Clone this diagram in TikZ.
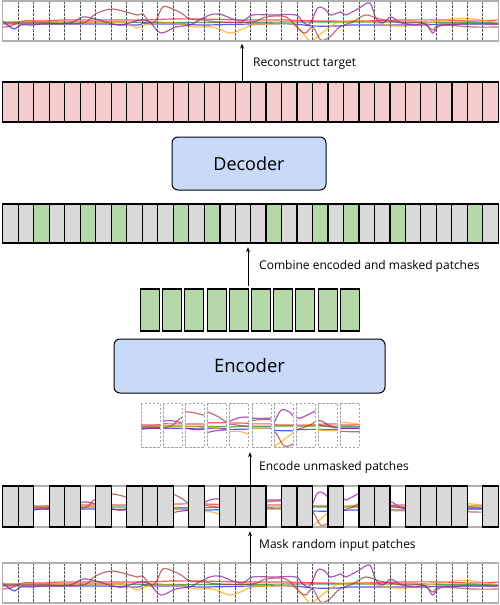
\documentclass[tikz,border=0pt]{standalone}
\usepackage{fontspec}
\setmainfont{Open Sans}
\usetikzlibrary{arrows.meta}
\definecolor{pinkc}{HTML}{F4CCCC}
\definecolor{greenc}{HTML}{B6D7A8}
\definecolor{grayc}{HTML}{D9D9D9}
\definecolor{bluec}{HTML}{C9DAF8}
\definecolor{stripborder}{HTML}{B0B0B0}
\definecolor{divc}{HTML}{555555}
\definecolor{sigred}{HTML}{FF1A1A}
\definecolor{sigbrown}{HTML}{A83A3A}
\definecolor{sigpurple}{HTML}{8E1A9E}
\definecolor{sigorange}{HTML}{FFA500}
\definecolor{sigblue}{HTML}{1A1AFF}
\definecolor{siggreen}{HTML}{108A10}
\tikzset{
  sigline/.style={line width=1.2pt, opacity=0.72, line join=round},
  cellline/.style={line width=1.1pt, black},
  divline/.style={divc, line width=0.8pt, dash pattern=on 2.5pt off 1.5pt},
  borderline/.style={stripborder, line width=1.2pt},
  procbox/.style={draw=black, fill=bluec, line width=1pt, rounded corners=6pt, inner sep=0pt},
  greenbox/.style={draw=black, fill=greenc, line width=1.1pt},
  graybox/.style={draw=black, fill=grayc, line width=1.1pt},
  smallpatch/.style={draw=gray!70, line width=0.9pt, dash pattern=on 2.5pt off 1.5pt},
  arr/.style={-{Stealth[length=5pt,width=4pt]}, line width=0.8pt, black},
  lab/.style={font=\fontsize{12}{14}\selectfont, anchor=west, inner sep=0pt},
  anchorbox/.style={inner sep=0pt, minimum width=495.6pt, minimum height=40pt}
}
\newcommand\drawsignals{%
 \draw[sigline, sigred] plot[smooth, tension=0.55] coordinates {(0,26) (8,25) (20,20) (40,20) (60,19) (100,19) (140,19) (170,18) (200,18) (240,19) (280,19) (320,20) (360,20) (400,19) (440,19) (470,20) (496,19)};
 \draw[sigline, siggreen] plot[smooth, tension=0.55] coordinates {(0,21) (100,21) (200,21.5) (300,21) (400,21) (496,21.5)};
 \draw[sigline, sigblue] plot[smooth, tension=0.55] coordinates {(0,20) (6,25) (12,28) (18,24) (30,24) (40,23) (60,23) (100,23) (135,24) (140,22) (150,23) (180,23) (200,24) (250,23) (290,23) (310,25) (335,25) (350,24) (420,24) (440,23) (496,23)};
 \draw[sigline, sigorange] plot[smooth, tension=0.55] coordinates {(0,21) (40,21) (80,21) (120,22) (135,27) (145,23) (170,22) (193,26) (210,26) (227,32) (240,28) (250,24) (270,23) (290,23) (300,32) (308,40) (318,33) (327,26) (337,21) (360,20) (393,25) (420,23) (450,18) (470,18) (496,22)};
 \draw[sigline, sigpurple] plot[smooth, tension=0.55] coordinates {(0,22) (40,22) (67,22) (80,16) (93,18) (110,23) (120,24) (137,19) (147,21) (158,32) (173,26) (187,24) (195,20) (207,14) (217,13) (230,18) (240,20) (250,14) (270,14) (293,14) (300,21) (307,23) (315,7) (322,8) (328,14) (338,11) (343,14) (355,8) (367,2) (373,17) (380,22) (388,16) (397,21) (410,24) (423,23) (430,32) (437,25) (460,23) (496,23)};
 \draw[sigline, sigbrown] plot[smooth, tension=0.55] coordinates {(0,23) (40,23) (80,22) (90,15) (97,11) (110,8) (127,12) (135,14) (140,13) (147,21) (153,20) (160,6) (170,8) (180,13) (187,18) (200,19) (217,21) (250,21) (263,16) (283,16) (297,29) (303,32) (310,26) (318,39) (327,36) (337,26) (350,21) (363,14) (377,18) (400,22) (420,22) (430,29) (437,24) (470,26) (496,26)};
}
% a signal strip with top-left corner at (2.7,#1), height #2
\newcommand\signalstrip[2]{%
 \begin{scope}
  \clip (2.7,#1) rectangle (498.3,#1+#2);
  \begin{scope}[shift={(2.7,#1)}]
   \drawsignals
  \end{scope}
 \end{scope}
 \foreach \i in {1,...,31} \draw[divline] ({2.7+15.49*\i},#1) -- ++(0,#2);
}
\begin{document}
\begin{tikzpicture}[x=1pt, y=-1pt]
\useasboundingbox (0,0) rectangle (500,605);
\fill[white] (0,0) rectangle (500,605);

% ---------- top strip (reconstruct target) ----------
\signalstrip{1}{40}
\draw[borderline] (2.7,1) rectangle (498.3,41);
\node[anchorbox] (topstrip) at (250.5,21) {};

% ---------- pink bar ----------
\fill[pinkc] (2.7,82) rectangle (498.3,122);
\foreach \i in {1,...,31} \draw[cellline] ({2.7+15.49*\i},82) -- ++(0,40);
\draw[line width=2pt] ({2.7+15.49*29},82) -- ++(0,40);
\draw[cellline] (2.7,82) rectangle (498.3,122);
\node[anchorbox] (pink) at (250.5,102) {};

% ---------- decoder ----------
\node[procbox, minimum width=154pt, minimum height=53pt, font=\fontsize{18}{21}\selectfont] (dec) at (249,163.5) {Decoder};

% ---------- combined bar ----------
\fill[grayc] (2.7,204) rectangle (498.3,243);
\foreach \i in {2,5,7,11,13,17,20,22,25,30} \fill[greenc] ({2.7+15.49*\i},204) rectangle ++(15.49,39);
\foreach \i in {1,...,31} \draw[cellline] ({2.7+15.49*\i},204) -- ++(0,39);
\draw[line width=2pt] ({2.7+15.49*14},204) -- ++(0,39);
\draw[cellline] (2.7,204) rectangle (498.3,243);
\node[anchorbox, minimum height=39pt] (comb) at (250.5,223.5) {};

% ---------- encoded patches ----------
\foreach \k in {0,...,9} \draw[greenbox] ({140.5+22.2*\k},289) rectangle ++(19,42);
\node[inner sep=0pt, minimum width=219pt, minimum height=42pt] (enc) at (250,310) {};

% ---------- encoder ----------
\node[procbox, minimum width=271pt, minimum height=54pt, font=\fontsize{18.5}{21}\selectfont] (encoder) at (249.5,366) {Encoder};

% ---------- unmasked small patches ----------
\foreach \i [count=\k from 0] in {2,5,7,11,13,17,20,22,25,30} {
  \begin{scope}
    \clip ({141+22.2*\k},403) rectangle ++(19,44);
    \begin{scope}[shift={({141+22.2*\k},403)}, xscale=1.2266, yscale=1.1, shift={({-15.49*\i},0)}]
      \drawsignals
    \end{scope}
  \end{scope}
  \draw[smallpatch] ({141+22.2*\k},403) rectangle ++(19,44);
}
\node[inner sep=0pt, minimum width=219pt, minimum height=44pt] (small) at (250.5,425) {};

% ---------- masked bar ----------
\signalstrip{486}{41}
\draw[borderline] (2.7,486) -- (498.3,486) (2.7,527) -- (498.3,527);
\foreach \i in {0,1,3,4,6,8,9,10,12,14,15,16,18,19,21,23,24,26,27,28,29,31}
  \draw[graybox] ({2.7+15.49*\i},486) rectangle ++(15.49,41);
\node[anchorbox, minimum height=41pt] (masked) at (250.5,506.5) {};

% ---------- bottom strip (input) ----------
\signalstrip{563}{40}
\draw[borderline] (2.7,563) rectangle (498.3,603);
\node[anchorbox] (input) at (250.5,583) {};

% ---------- arrows ----------
\coordinate (a1) at (242,0);
\coordinate (a2) at (248,0);
\coordinate (a3) at (250,0);
\draw[arr, shorten >=2.5pt] (pink.north -| a1) -- (topstrip.south -| a1);
\draw[arr, shorten >=4pt, shorten <=3pt] (enc.north -| a2) -- (comb.south -| a2);
\draw[arr, shorten >=5pt] (masked.north -| a3) -- (small.south -| a3);
\draw[arr, shorten >=4pt] (input.north -| a3) -- (masked.south -| a3);

% ---------- labels ----------
\node[lab] (l1) at (253,64) {Reconstruct target};
\node[lab] (l2) at (259,266) {Combine encoded and masked patches};
\node[lab] (l3) at (259,467) {Encode unmasked patches};
\node[lab] (l4) at (259,545) {Mask random input patches};
\end{tikzpicture}
\end{document}
